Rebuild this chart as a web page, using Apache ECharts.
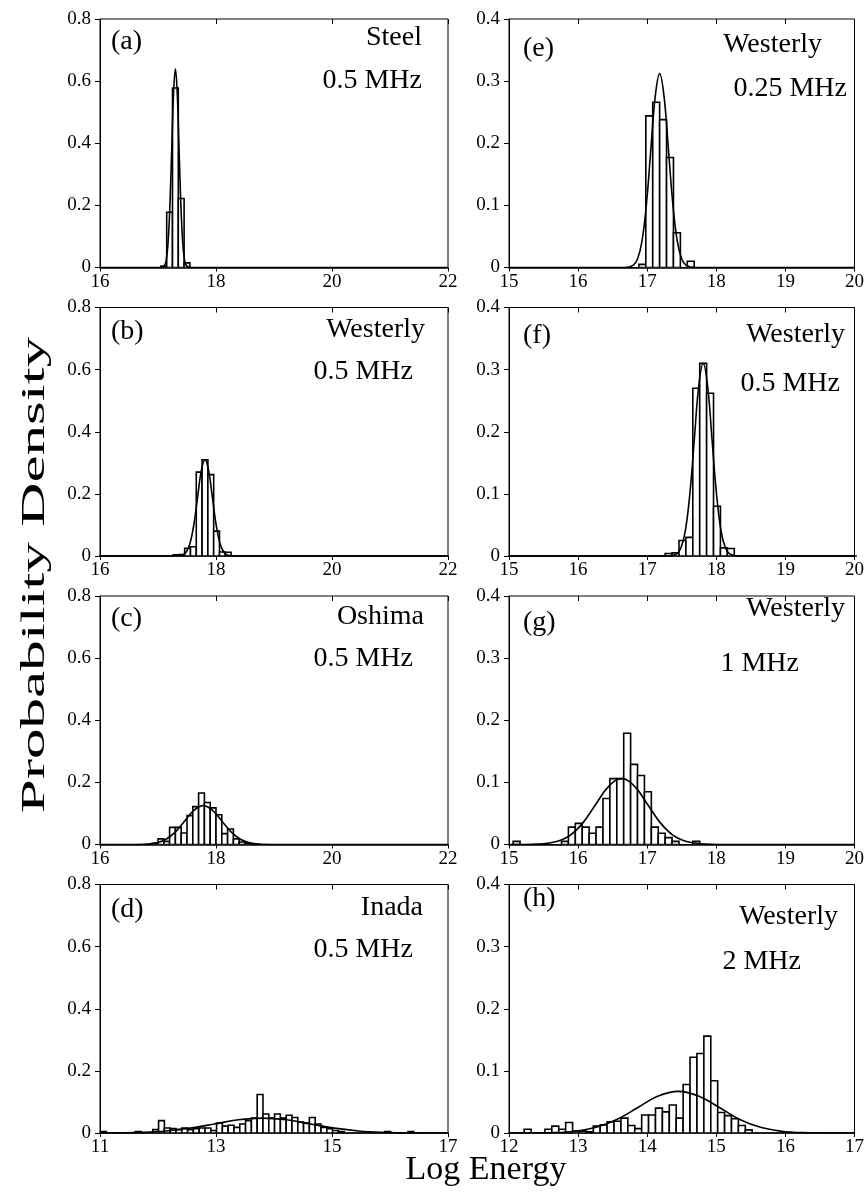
<!DOCTYPE html>
<html>
<head>
<meta charset="utf-8">
<script src="https://cdn.jsdelivr.net/npm/echarts@6/dist/echarts.min.js"></script>
<style>
html, body { margin: 0; background: #fff; }
#chart { width: 867px; height: 1194px; }
</style>
</head>
<body>
<div id="chart"></div>
<script>
// histogram bins: [bin centre, fraction of events], bin width 0.1
var binWidth = 0.1;
var steel05 = [[17.1, 0.005], [17.2, 0.178], [17.3, 0.578], [17.4, 0.222], [17.5, 0.015]];
var westerly025 = [[16.93, 0.005], [17.03, 0.244], [17.13, 0.266], [17.23, 0.238], [17.33, 0.177], [17.43, 0.056], [17.63, 0.01]];
var westerly05 = [[17.31, 0.004], [17.41, 0.005], [17.51, 0.025], [17.61, 0.03], [17.71, 0.27], [17.81, 0.31],
  [17.91, 0.262], [18.01, 0.08], [18.11, 0.013], [18.21, 0.012]];
var oshima05 = [[16.95, 0.004], [17.05, 0.018], [17.15, 0.01], [17.25, 0.055], [17.35, 0.055], [17.45, 0.037],
  [17.55, 0.093], [17.65, 0.122], [17.75, 0.166], [17.85, 0.135], [17.95, 0.118], [18.05, 0.096],
  [18.15, 0.035], [18.25, 0.05], [18.35, 0.018], [18.45, 0.008], [18.55, 0.004]];
var westerly1 = [[15.11, 0.005], [15.81, 0.005], [15.91, 0.028], [16.01, 0.034], [16.11, 0.028], [16.21, 0.018],
  [16.31, 0.028], [16.41, 0.074], [16.51, 0.106], [16.61, 0.106], [16.71, 0.179], [16.81, 0.129],
  [16.91, 0.111], [17.01, 0.085], [17.11, 0.028], [17.21, 0.018], [17.31, 0.011], [17.41, 0.005], [17.71, 0.005]];
var inada05 = [[11.06, 0.005], [11.66, 0.005], [11.96, 0.011], [12.06, 0.04], [12.16, 0.016], [12.26, 0.014],
  [12.36, 0.011], [12.46, 0.016], [12.56, 0.011], [12.66, 0.014], [12.76, 0.016], [12.86, 0.016],
  [12.96, 0.008], [13.06, 0.032], [13.16, 0.022], [13.26, 0.025], [13.36, 0.018], [13.46, 0.029],
  [13.56, 0.04], [13.66, 0.048], [13.76, 0.124], [13.86, 0.061], [13.96, 0.048], [14.06, 0.061],
  [14.16, 0.048], [14.26, 0.057], [14.36, 0.05], [14.46, 0.035], [14.56, 0.032], [14.66, 0.05],
  [14.76, 0.029], [14.86, 0.018], [14.96, 0.014], [15.06, 0.008], [15.16, 0.005], [15.96, 0.005], [16.36, 0.005]];
var westerly2 = [[12.27, 0.006], [12.57, 0.006], [12.67, 0.011], [12.77, 0.006], [12.87, 0.017], [12.97, 0.003],
  [13.07, 0.003], [13.17, 0.002], [13.27, 0.011], [13.37, 0.013], [13.47, 0.018], [13.57, 0.019],
  [13.67, 0.024], [13.77, 0.012], [13.87, 0.007], [13.97, 0.029], [14.07, 0.029], [14.17, 0.04],
  [14.27, 0.034], [14.37, 0.045], [14.47, 0.024], [14.57, 0.078], [14.67, 0.122], [14.77, 0.128],
  [14.87, 0.156], [14.97, 0.084], [15.07, 0.033], [15.17, 0.028], [15.27, 0.023], [15.37, 0.012], [15.47, 0.005]];

// fitted normal curves: [log energy, fraction]
var steel05Fit = [[16, 0], [17.052, 0.0002], [17.114, 0.0071], [17.145, 0.028], [17.176, 0.0866], [17.207, 0.208],
  [17.238, 0.388], [17.269, 0.565], [17.3, 0.64], [17.331, 0.565], [17.362, 0.388], [17.393, 0.208],
  [17.424, 0.0866], [17.455, 0.028], [17.486, 0.0071], [17.548, 0.0002], [22, 0]];
var westerly025Fit = [[15, 0], [16.668, 0], [16.796, 0.0035], [16.86, 0.0137], [16.924, 0.042], [16.988, 0.101],
  [17.052, 0.189], [17.116, 0.275], [17.18, 0.312], [17.244, 0.275], [17.308, 0.189], [17.372, 0.101],
  [17.436, 0.042], [17.5, 0.0137], [17.564, 0.0035], [17.692, 0], [20, 0]];
var westerly05Fit = [[15, 0], [17.298, 0], [17.426, 0.0034], [17.49, 0.0136], [17.554, 0.042], [17.618, 0.101],
  [17.682, 0.188], [17.746, 0.274], [17.81, 0.31], [17.874, 0.274], [17.938, 0.188], [18.002, 0.101],
  [18.066, 0.042], [18.13, 0.0136], [18.194, 0.0034], [18.322, 0], [22, 0]];
var oshima05Fit = [[16, 0], [16.5, 0], [16.82, 0.0014], [16.98, 0.0055], [17.14, 0.0169], [17.3, 0.0406],
  [17.46, 0.0758], [17.62, 0.11], [17.78, 0.125], [17.94, 0.11], [18.1, 0.0758], [18.26, 0.0406],
  [18.42, 0.0169], [18.58, 0.0055], [18.74, 0.0014], [19.06, 0], [22, 0]];
var westerly1Fit = [[15, 0], [15.126, 0], [15.502, 0.0012], [15.69, 0.0047], [15.878, 0.0143], [16.066, 0.0344],
  [16.254, 0.0643], [16.442, 0.0935], [16.63, 0.106], [16.818, 0.0935], [17.006, 0.0643], [17.194, 0.0344],
  [17.382, 0.0143], [17.57, 0.0047], [17.758, 0.0012], [18.134, 0], [20, 0]];
var inada05Fit = [[11, 0.0001], [11.31, 0.0005], [11.725, 0.0021], [12.14, 0.0065], [12.555, 0.0156],
  [12.97, 0.0291], [13.385, 0.0424], [13.8, 0.048], [14.215, 0.0424], [14.63, 0.0291], [15.045, 0.0156],
  [15.46, 0.0065], [15.875, 0.0021], [16.29, 0.0005], [17, 0]];
var westerly2Fit = [[12, 0], [12.07, 0], [12.67, 0.0007], [12.96, 0.0029], [13.26, 0.0091], [13.56, 0.0218],
  [13.86, 0.0406], [14.15, 0.0591], [14.45, 0.067], [14.75, 0.0591], [15.05, 0.0406], [15.34, 0.0218],
  [15.64, 0.0091], [15.94, 0.0029], [16.24, 0.0007], [16.83, 0], [17, 0]];

// axis ranges: [min, max, interval]
var xLeft = [16, 22, 2], xLeftD = [11, 17, 2], xRight = [15, 20, 1], xRightH = [12, 17, 1];
var yLeft = [0, 0.8, 0.2], yRight = [0, 0.4, 0.1];

var panels = [
  { tag: '(a)', site: 'Steel',    freq: '0.5 MHz',  bars: steel05,     fit: steel05Fit,     x: xLeft,   y: yLeft },
  { tag: '(b)', site: 'Westerly', freq: '0.5 MHz',  bars: westerly05,  fit: westerly05Fit,  x: xLeft,   y: yLeft },
  { tag: '(c)', site: 'Oshima',   freq: '0.5 MHz',  bars: oshima05,    fit: oshima05Fit,    x: xLeft,   y: yLeft },
  { tag: '(d)', site: 'Inada',    freq: '0.5 MHz',  bars: inada05,     fit: inada05Fit,     x: xLeftD,  y: yLeft },
  { tag: '(e)', site: 'Westerly', freq: '0.25 MHz', bars: westerly025, fit: westerly025Fit, x: xRight,  y: yRight },
  { tag: '(f)', site: 'Westerly', freq: '0.5 MHz',  bars: westerly05,  fit: westerly05Fit,  x: xRight,  y: yRight },
  { tag: '(g)', site: 'Westerly', freq: '1 MHz',    bars: westerly1,   fit: westerly1Fit,   x: xRight,  y: yRight },
  { tag: '(h)', site: 'Westerly', freq: '2 MHz',    bars: westerly2,   fit: westerly2Fit,   x: xRightH, y: yRight }
];

// layout
var colLeft = [100, 509], colWidth = [348, 349];
var rowTop = [19, 307.5, 596, 884.5], rowHeight = 248.5;
// text offsets from panel top: tag, site, freq ; right edges of site / freq
var textDy = [[23, 19, 62], [24, 22, 64], [23, 21, 63], [25, 23, 65], [30, 26, 70], [28, 27, 76], [27, 13, 68], [14, 32, 77]];
var textRight = [[422, 422], [425, 413], [424, 413], [423, 413], [822, 847], [845, 840], [845, 799], [838, 801]];

var serif = '"Liberation Serif", "DejaVu Serif", serif';
var grids = [], xAxes = [], yAxes = [], series = [], graphics = [];

panels.forEach(function (p, i) {
  var col = i < 4 ? 0 : 1, row = i % 4;
  grids.push({
    left: colLeft[col], top: rowTop[row], width: colWidth[col], height: rowHeight,
    show: true, borderColor: '#000', borderWidth: 1, containLabel: false
  });
  // main x axis: labels + outward ticks
  xAxes.push({
    type: 'value', gridIndex: i, min: p.x[0], max: p.x[1], interval: p.x[2],
    splitLine: { show: false },
    axisLine: { show: true, onZero: false, lineStyle: { color: '#000', width: 1.5 } },
    axisTick: { show: true, length: 4, lineStyle: { color: '#000', width: 1 } },
    axisLabel: { show: true, margin: 5, color: '#000', fontFamily: serif, fontSize: 19, showMinLabel: true, showMaxLabel: true }
  });
  // overlay x axis: inward half of the ticks
  xAxes.push({
    type: 'value', gridIndex: i, min: p.x[0], max: p.x[1], interval: p.x[2],
    splitLine: { show: false },
    axisLine: { show: false, onZero: false },
    axisTick: { show: true, inside: true, length: 5, lineStyle: { color: '#000', width: 1 } },
    axisLabel: { show: false }
  });
  yAxes.push({
    type: 'value', gridIndex: i, min: p.y[0], max: p.y[1], interval: p.y[2],
    splitLine: { show: false },
    axisLine: { show: true, lineStyle: { color: '#000', width: 1 } },
    axisTick: { show: true, length: 5, lineStyle: { color: '#000', width: 1 } },
    axisLabel: {
      margin: 9, color: '#000', fontFamily: serif, fontSize: 19,
      formatter: function (v) { return v === 0 ? '0' : v.toFixed(1); }
    }
  });
  series.push({
    type: 'custom', xAxisIndex: 2 * i, yAxisIndex: i, clip: true, z: 2,
    data: p.bars.filter(function (d) { return d[1] > 0; }),
    renderItem: function (params, api) {
      var c = api.value(0), h = api.value(1);
      var p0 = api.coord([c - binWidth / 2, h]);
      var p1 = api.coord([c + binWidth / 2, 0]);
      return {
        type: 'rect',
        shape: { x: p0[0], y: p0[1], width: p1[0] - p0[0], height: p1[1] - p0[1] },
        style: { fill: '#fff', stroke: '#000', lineWidth: 1.6 }
      };
    }
  });
  series.push({
    type: 'line', xAxisIndex: 2 * i, yAxisIndex: i, z: 3,
    data: p.fit, showSymbol: false, smooth: 0.4, clip: true,
    lineStyle: { color: '#000', width: 1.6 }
  });

  var top = rowTop[row];
  var tagX = col === 0 ? 111 : 523;
  graphics.push({
    type: 'text', x: tagX, y: top + textDy[i][0],
    style: { text: p.tag, font: '28px ' + serif, fill: '#000', textAlign: 'left', textVerticalAlign: 'middle' }
  });
  graphics.push({
    type: 'text', x: textRight[i][0], y: top + textDy[i][1],
    style: { text: p.site, font: '28px ' + serif, fill: '#000', textAlign: 'right', textVerticalAlign: 'middle' }
  });
  graphics.push({
    type: 'text', x: textRight[i][1], y: top + textDy[i][2],
    style: { text: p.freq, font: '28px ' + serif, fill: '#000', textAlign: 'right', textVerticalAlign: 'middle' }
  });
});

// axis titles (the y title is drawn stretched along its length, as in the figure)
graphics.push({
  type: 'text', x: 35, y: 575, rotation: Math.PI / 2, scaleX: 1.85,
  style: { text: 'Probability Density', font: '33px ' + serif, fill: '#000', textAlign: 'center', textVerticalAlign: 'middle' }
});
graphics.push({
  type: 'text', x: 486, y: 1170,
  style: { text: 'Log Energy', font: '34px ' + serif, fill: '#000', textAlign: 'center', textVerticalAlign: 'middle' }
});

var chart = echarts.init(document.getElementById('chart'));
chart.setOption({
  animation: false,
  backgroundColor: '#fff',
  grid: grids,
  xAxis: xAxes,
  yAxis: yAxes,
  series: series,
  graphic: graphics
});
</script>
</body>
</html>
